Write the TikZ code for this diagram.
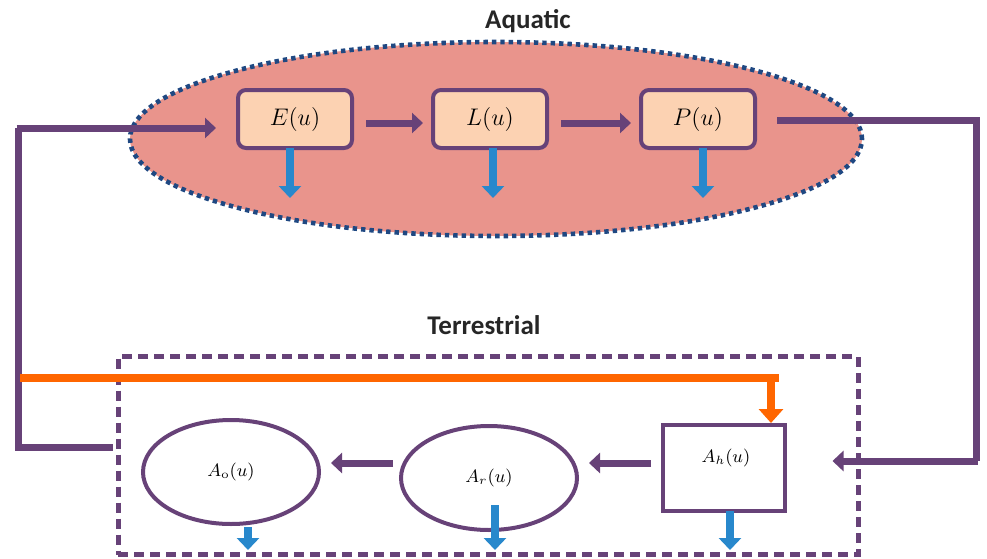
\documentclass[tikz,border=0pt]{standalone}
\usepackage{amsmath}
\usepackage{fontspec}
\newfontfamily\headfont{Carlito}
\usetikzlibrary{positioning, arrows.meta, shapes.geometric}
\definecolor{pond}{RGB}{233,148,140}
\definecolor{peach}{RGB}{252,210,178}
\definecolor{plum}{RGB}{103,66,120}
\definecolor{navy}{RGB}{31,72,130}
\definecolor{drop}{RGB}{40,136,204}
\definecolor{flame}{RGB}{255,102,0}
\begin{document}
\begin{tikzpicture}[x=0.5pt, y=-0.5pt,
  stage/.style={draw=plum, line width=2pt, fill=peach, rounded corners=4pt,
    minimum width=57pt, minimum height=29pt, inner sep=0, font=\large},
  adult/.style={draw=plum, line width=2pt, ellipse, minimum width=88pt,
    minimum height=52pt, inner sep=0, font=\small},
  flow/.style={-{Triangle[width=10pt, length=5.5pt]}, plum, line width=3.5pt},
  loss/.style={-{Triangle[width=11pt, length=6pt]}, drop, line width=4pt},
  hint/.style={flame, line width=4pt},
  title/.style={font=\headfont\bfseries\fontsize{13.5}{15}\selectfont, text=black!85}]
\useasboundingbox (0,0) rectangle (987,558);
% Aquatic part
\node[title] at (528,21) {Aquatic};
\node[ellipse, fill=pond, draw=navy, line width=2.3pt, dash pattern=on 2.2pt off 2pt,
  minimum width=366pt, minimum height=97pt, inner sep=0] (pond) at (496,139) {};
\node[stage] (E) at (295,119) {$E(u)$};
\node[stage] (L) at (490,119) {$L(u)$};
\node[stage] (P) at (698,119) {$P(u)$};
\draw[flow] ([xshift=6pt]E.east |- 0,123) -- ([xshift=-4pt]L.west |- 0,123);
\draw[flow] ([xshift=6pt]L.east |- 0,123) -- ([xshift=-4pt]P.west |- 0,123);
\foreach \s/\x in {E/290, L/493, P/703}
  \draw[loss] (\s.south -| \x,0) ++(0,1pt) -- (\x,198);
% Terrestrial part
\node[title] at (484,325) {Terrestrial};
\node[draw=plum, line width=2.5pt, dash pattern=on 5pt off 3pt,
  minimum width=370pt, minimum height=99pt, inner sep=0] (land) at (488,455.5) {};
\node[adult] (Ao) at (231,472) {$A_{\mathrm{o}}(u)$};
\node[adult] (Ar) at (489,478) {$A_r(u)$};
\node[draw=plum, line width=2pt, minimum width=61pt, minimum height=43pt,
  inner sep=0, font=\small] (Ah) at (724,468) {};
\node[font=\small] at (726,458) {$A_h(u)$};
\draw[flow] ([xshift=-5pt]Ah.west |- 0,463) -- ([xshift=5pt]Ar.east |- 0,463);
\draw[flow] ([xshift=-3pt]Ar.west |- 0,463) -- ([xshift=5pt]Ao.east |- 0,463);
\draw[loss] (248,527) -- (248,550);
\draw[loss] (495,505) -- (495,550);
\draw[loss] (Ah.south -| 730,0) ++(0,1pt) -- (730,550);
% loops between the two parts
\coordinate (back) at (113,447);
\draw[flow, -] (back) -- (18,447) -- (18,128);
\draw[flow] (16.5,128) -- ([xshift=-10pt]E.west |- 0,128);
\draw[plum, line width=3.5pt] ([xshift=10pt]P.east |- 0,120) -- (976,120) -- (976,461);
\draw[flow] (977.75,461) -- ([xshift=-14pt]land.east |- 0,461);
\draw[hint] (20,378) -- (779,378);
\draw[hint, -{Triangle[width=12pt, length=7pt]}] (771,376) -- (Ah.north -| 771,0);
\end{tikzpicture}
\end{document}
